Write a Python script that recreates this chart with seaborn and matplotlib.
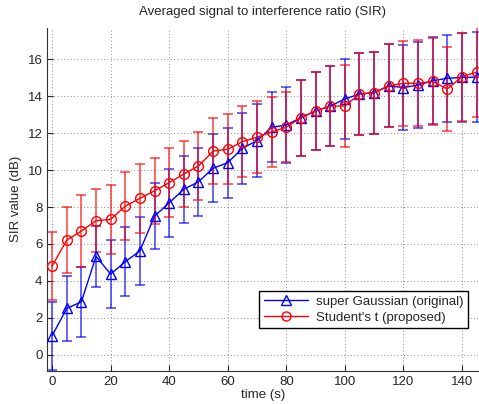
import numpy as np
import pandas as pd
import matplotlib
matplotlib.use("Agg")
import matplotlib.pyplot as plt
import seaborn as sns
from matplotlib.lines import Line2D

time_s = [0, 5, 10, 15, 20, 25, 30, 35, 40, 45, 50, 55, 60, 65, 70,
          75, 80, 85, 90, 95, 100, 105, 110, 115, 120, 125, 130, 135, 140, 145]
sg_mean = [1.03, 2.51, 2.87, 5.33, 4.37, 5.04, 5.63, 7.51, 8.23, 8.96, 9.37, 10.1, 10.4, 11.18, 11.6,
           12.32, 12.44, 12.84, 13.2, 13.47, 13.85, 14.12, 14.19, 14.56, 14.47, 14.6, 14.84, 14.97, 15.02, 15.03]
sg_err = [1.83, 1.78, 1.9, 1.65, 1.85, 1.88, 1.85, 1.8, 1.85, 1.8, 1.85, 1.85, 1.9, 1.93, 1.97,
          1.9, 2.04, 2.05, 2.1, 2.15, 2.17, 2.2, 2.22, 2.25, 2.3, 2.32, 2.34, 2.35, 2.4, 2.45]
st_mean = [4.80, 6.21, 6.70, 7.26, 7.33, 8.05, 8.47, 8.88, 9.32, 9.79, 10.22, 11.03, 11.13, 11.54, 11.78,
           12.06, 12.32, 12.84, 13.2, 13.47, 13.47, 14.12, 14.19, 14.56, 14.7, 14.7, 14.8, 14.39, 15.06, 15.3]
st_err = [1.84, 1.8, 1.95, 1.7, 1.85, 1.85, 1.85, 1.8, 1.85, 1.8, 1.85, 1.8, 1.9, 1.93, 1.95,
          1.9, 1.9, 2.05, 2.1, 2.15, 2.2, 2.2, 2.22, 2.25, 2.3, 2.32, 2.34, 2.3, 2.38, 2.45]
series_names = ["super Gaussian (original)", "Student's t (proposed)"]
x_ticks = [0, 20, 40, 60, 80, 100, 120, 140]
y_ticks = [0, 2, 4, 6, 8, 10, 12, 14, 16]

sns.set_style("ticks")
plt.rcParams['font.family'] = ['Liberation Sans', 'DejaVu Sans']

series = {
    series_names[0]: pd.DataFrame({"time": time_s, "value": sg_mean, "err": sg_err}),
    series_names[1]: pd.DataFrame({"time": time_s, "value": st_mean, "err": st_err}),
}
colors = {series_names[0]: "#0000ff", series_names[1]: "#ff0000"}
markers = {series_names[0]: "^", series_names[1]: "o"}
msize = {series_names[0]: 7.5, series_names[1]: 7.0}

fig = plt.figure(figsize=(4.79, 4.04), dpi=100)
ax = fig.add_axes([0.099, 0.082, 0.899, 0.849])

for name in series_names:
    sub = series[name]
    ax.errorbar(sub["time"], sub["value"], yerr=sub["err"], fmt="none",
                ecolor=colors[name], alpha=0.6, elinewidth=1.4, capsize=3.4,
                capthick=1.4, zorder=2)

for name in series_names:
    sub = series[name]
    sns.lineplot(data=sub, x="time", y="value", ax=ax, color=colors[name],
                 marker=markers[name], markersize=msize[name],
                 markerfacecolor="none", markeredgecolor=colors[name],
                 markeredgewidth=1.0, linewidth=1.0, zorder=3, legend=False)

handles = [Line2D([], [], color=colors[n], marker=markers[n], markerfacecolor="none",
                  markeredgecolor=colors[n], markersize=6.5, linewidth=1.0)
           for n in series_names]
leg = ax.legend(handles, series_names, loc="lower right", fontsize=9.5,
                frameon=True, fancybox=False, edgecolor="black", framealpha=1,
                bbox_to_anchor=(0.993, 0.105), borderpad=0.35, handlelength=3.4,
                labelspacing=0.25, handletextpad=0.6)
leg.get_frame().set_linewidth(1.0)

ax.set_xlim(-1.6, 145.5)
ax.set_ylim(-0.87, 17.7)
ax.set_xticks(x_ticks)
ax.set_yticks(y_ticks)
ax.grid(True, linestyle=(0, (1, 3)), color="#666666", linewidth=0.6)
ax.tick_params(direction="in", labelsize=9.5, length=4)
for s in ["top", "right"]:
    ax.spines[s].set_visible(False)
for s in ["left", "bottom"]:
    ax.spines[s].set_color("#333333")
ax.set_xlabel("time (s)", fontsize=9.5, labelpad=1)
ax.set_ylabel("SIR value (dB)", fontsize=9.5, labelpad=4)
ax.set_title("Averaged signal to interference ratio (SIR)", fontsize=9.5, pad=9)

fig.savefig("out.png", dpi=100)
